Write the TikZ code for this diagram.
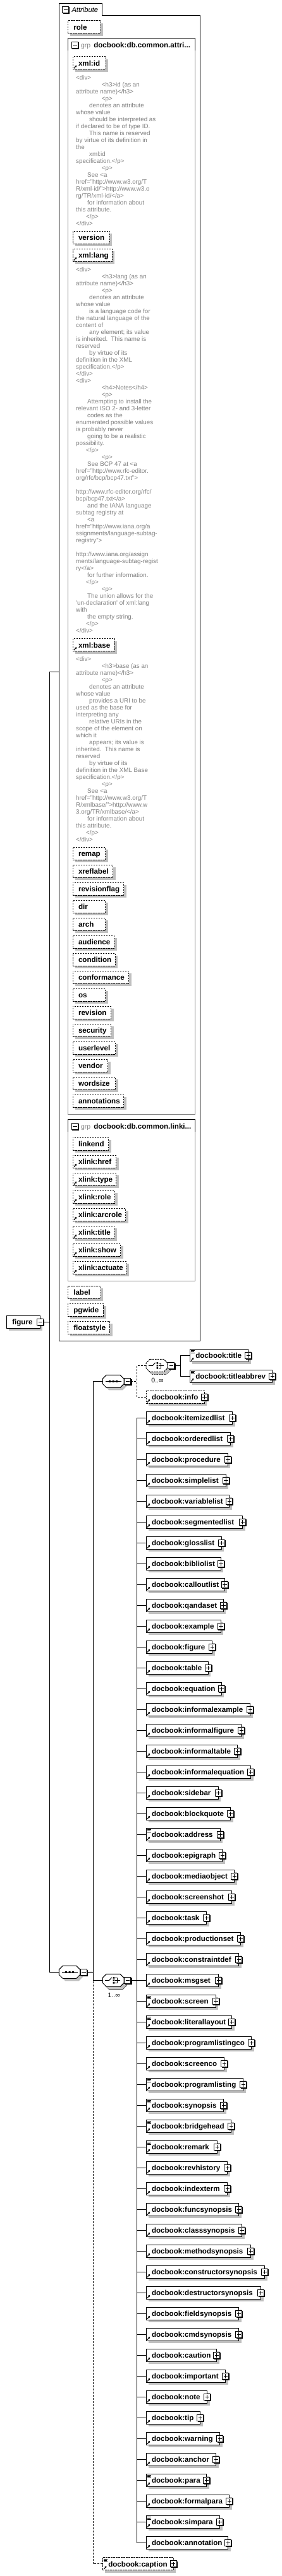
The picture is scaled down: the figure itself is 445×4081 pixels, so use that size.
\documentclass[tikz,border=0pt]{standalone}
\usepackage{fontspec}
\setmainfont{Liberation Sans}
\usetikzlibrary{arrows.meta}
\definecolor{shd}{HTML}{C0C0C0}
\definecolor{anno}{HTML}{808080}
\definecolor{grpc}{HTML}{808080}
\tikzset{
  box/.style={draw=black, line width=1pt, fill=white, minimum height=20pt, inner sep=0pt, outer sep=0pt},
  dbox/.style={box, dash pattern=on 2.5pt off 1.5pt},
  lbl/.style={font=\fontsize{11.6}{13}\selectfont\bfseries, inner sep=0pt, outer sep=0pt, anchor=base west},
  alab/.style={font=\fontsize{9.8}{11}\selectfont, text=anno, inner sep=0pt, anchor=base west},
  grpt/.style={font=\fontsize{10.4}{12}\selectfont, text=anno, inner sep=0pt, anchor=base west},
  mult/.style={font=\fontsize{10.5}{12}\selectfont, inner sep=0pt},
  sq/.style={draw=black, line width=1pt, fill=white, minimum size=10pt, inner sep=0pt, outer sep=0pt},
  hub/.style={inner sep=0pt, outer sep=0pt},
  conn/.style={line width=1pt},
  dconn/.style={line width=1pt, dash pattern=on 3pt off 2pt},
}
\newcommand\plusbx[3]{%
  \fill[black] (#2-4,#3-4) rectangle (#2+6.6,#3+6.6);
  \node[sq] (#1) at (#2,#3) {};
  \draw[line width=1pt] (#2-3.2,#3) -- (#2+3.2,#3) (#2,#3-3.2) -- (#2,#3+3.2);}
\newcommand\minusbx[3]{%
  \fill[black] (#2-4,#3-4) rectangle (#2+6.6,#3+6.6);
  \node[sq] (#1) at (#2,#3) {};
  \draw[line width=1pt] (#2-3.2,#3) -- (#2+3.2,#3);}
\newcommand\arrowicon[2]{\draw[line width=1.1pt,-{Triangle[length=2.8pt,width=3pt]}] (#1+2,#2+8.3) -- (#1+6.2,#2+3.4);}
\newcommand\texticon[2]{\draw[line width=0.8pt] (#1+2,#2-7.6) -- (#1+8,#2-7.6) (#1+2,#2-5.6) -- (#1+7,#2-5.6) (#1+2,#2-3.6) -- (#1+8,#2-3.6);}
% element: style, name, left, yc, right, text
\newcommand\elem[6]{%
  \fill[shd] (#3+4,#4-6) rectangle (#5+4,#4+14);
  \node[#1, anchor=west, minimum width=#5-#3] (#2) at (#3,#4) {};
  \node[lbl] (#2-t) at (#3+9,#4+4.5) {#6};
  \arrowicon{#3}{#4}%
  \plusbx{#2-p}{#5}{#4}}
% attribute: name, left, top, right, text
\newcommand\attr[5]{%
  \fill[shd] (#2+4,#3+4) rectangle (#4+4,#3+24);
  \node[dbox, anchor=north west, minimum width=#4-#2] (#1) at (#2,#3) {};
  \node[lbl] (#1-t) at (#2+9,#3+14.5) {#5};}
\newcommand\attrx[5]{\attr{#1}{#2}{#3}{#4}{#5}\arrowicon{#2}{#3+10}}
% group box: name, top, bottom, text
\newcommand\grpbox[4]{%
  \node[hub, draw=grpc, line width=1pt, anchor=north west, minimum width=201.4, minimum height=#3-#2] (#1) at (107.3,#2) {};
  \draw[line width=1pt] (107.3,#2+19.5) -- (107.3,#2) -- (308.7,#2) -- (308.7,#2+19.5);
  \minusbx{#1-m}{118.3}{#2+10.5}
  \node[grpt] (#1-g) at (128,#2+14.5) {grp};
  \node[lbl] (#1-t) at (148.3,#2+14.5) {#4};}
% octagon: style, name, l, t, r, b
\newcommand\octa[6]{%
  \fill[shd] (#3+10,#4+4) -- (#5-2,#4+4) -- (#5+4,#4+10) -- (#5+4,#6-2) -- (#5-2,#6+4) -- (#3+10,#6+4) -- (#3+4,#6-2) -- (#3+4,#4+10) -- cycle;
  \draw[#1, fill=white] (#3+6,#4) -- (#5-6,#4) -- (#5,#4+6) -- (#5,#6-6) -- (#5-6,#6) -- (#3+6,#6) -- (#3,#6-6) -- (#3,#4+6) -- cycle;
  \node[hub, minimum width=#5-#3, minimum height=#6-#4, anchor=north west] (#2) at (#3,#4) {};}
\newcommand\octb[5]{% back copy for repeated choice: style, l,t,r,b
  \draw[#1, fill=white] (#2+6,#3) -- (#4-6,#3) -- (#4,#3+6) -- (#4,#5-6) -- (#4-6,#5) -- (#2+6,#5) -- (#2,#5-6) -- (#2,#3+6) -- cycle;}
\newcommand\seqsym[2]{%
  \draw[line width=1pt] (#1-12.5,#2) -- (#1+12.5,#2);
  \fill (#1-7,#2-1.5) rectangle (#1-4,#2+1.5) (#1-1.5,#2-1.5) rectangle (#1+1.5,#2+1.5) (#1+4,#2-1.5) rectangle (#1+7,#2+1.5);}
\newcommand\chsym[2]{%
  \draw[line width=1pt] (#1-13,#2) -- (#1-6.5,#2) -- (#1-2.5,#2-4.5);
  \fill (#1-0.5,#2-5.3) rectangle (#1+2.1,#2-2.7) (#1-0.5,#2-1.3) rectangle (#1+2.1,#2+1.3) (#1-0.5,#2+2.7) rectangle (#1+2.1,#2+5.3);
  \draw[line width=1pt] (#1+3,#2-4) -- (#1+6,#2-4) -- (#1+6,#2+4) -- (#1+3,#2+4) (#1+3,#2) -- (#1+11,#2);}
\newcounter{anl}
\newcommand\astart[1]{\xdef\ay{#1}}
\newcommand\al[2]{\stepcounter{anl}\node[alab] (an\theanl) at (120+#1,\ay+3.5) {#2};\pgfmathsetmacro\tmpy{\ay+11}\xdef\ay{\tmpy}}
\newcommand\askip{\pgfmathsetmacro\tmpy{\ay+11}\xdef\ay{\tmpy}}

\begin{document}
\begin{tikzpicture}[x=1pt,y=-1pt]
\useasboundingbox (0,0) rectangle (445,4081);

% ===== Attribute container =====
\node[hub, anchor=north west, minimum width=223, minimum height=2118.7] (attrs) at (93.3,5.3) {};
\draw[line width=1pt] (93.3,2124) -- (93.3,5.3) -- (161.7,5.3) -- (161.7,24.3) -- (316.3,24.3) -- (316.3,2124) -- cycle;
\minusbx{attrs-m}{103.7}{15.5}
\node[font=\fontsize{11.2}{13}\selectfont\itshape, inner sep=0pt, anchor=base west] (attrs-t) at (113.3,19.7) {Attribute};

\attr{role}{107.3}{33}{159}{role}

% ----- group 1 -----
\grpbox{g1}{61}{1765}{docbook:db.common.attri...}
\attrx{xmlid}{115}{90}{167}{xml:id}
\astart{122.7}
\al{0}{<div>}
\al{40.7}{<h3>id (as an}
\al{0}{attribute name)</h3>}
\al{40.7}{<p>}
\al{21}{denotes an attribute}
\al{0}{whose value}
\al{21}{should be interpreted as}
\al{0}{if declared to be of type ID.}
\al{21}{This name is reserved}
\al{0}{by virtue of its definition in}
\al{0}{the}
\al{21}{xml:id}
\al{0}{specification.</p>}
\al{40.7}{<p>}
\al{18}{See <a}
\al{0}{href="http://www.w3.org/T}
\al{0}{R/xml-id/">http://www.w3.o}
\al{0}{rg/TR/xml-id/</a>}
\al{18}{for information about}
\al{0}{this attribute.}
\al{16}{</p>}
\al{0}{</div>}

\attr{version}{115}{366}{173}{version}
\attrx{xmllang}{115}{394}{177}{xml:lang}
\astart{426.7}
\al{0}{<div>}
\al{40.7}{<h3>lang (as an}
\al{0}{attribute name)</h3>}
\al{40.7}{<p>}
\al{21}{denotes an attribute}
\al{0}{whose value}
\al{21}{is a language code for}
\al{0}{the natural language of the}
\al{0}{content of}
\al{21}{any element; its value}
\al{0}{is inherited.\ \ This name is}
\al{0}{reserved}
\al{21}{by virtue of its}
\al{0}{definition in the XML}
\al{0}{specification.</p>}
\al{0}{</div>}
\al{0}{<div>}
\al{40.7}{<h4>Notes</h4>}
\al{40.7}{<p>}
\al{18}{Attempting to install the}
\al{0}{relevant ISO 2- and 3-letter}
\al{18}{codes as the}
\al{0}{enumerated possible values}
\al{0}{is probably never}
\al{18}{going to be a realistic}
\al{0}{possibility.}
\al{16}{</p>}
\al{40.7}{<p>}
\al{18}{See BCP 47 at <a}
\al{0}{href="http://www.rfc-editor.}
\al{0}{org/rfc/bcp/bcp47.txt">}
\askip
\al{0}{http://www.rfc-editor.org/rfc/}
\al{0}{bcp/bcp47.txt</a>}
\al{18}{and the IANA language}
\al{0}{subtag registry at}
\al{18}{<a}
\al{0}{href="http://www.iana.org/a}
\al{0}{ssignments/language-subtag-}
\al{0}{registry">}
\askip
\al{0}{http://www.iana.org/assign}
\al{0}{ments/language-subtag-regist}
\al{0}{ry</a>}
\al{18}{for further information.}
\al{16}{</p>}
\al{40.7}{<p>}
\al{18}{The union allows for the}
\al{0}{\textquotesingle un-declaration\textquotesingle\ of xml:lang}
\al{0}{with}
\al{18}{the empty string.}
\al{16}{</p>}
\al{0}{</div>}

\attrx{xmlbase}{115}{1011.7}{181}{xml:base}
\astart{1043.7}
\al{0}{<div>}
\al{40.7}{<h3>base (as an}
\al{0}{attribute name)</h3>}
\al{40.7}{<p>}
\al{21}{denotes an attribute}
\al{0}{whose value}
\al{21}{provides a URI to be}
\al{0}{used as the base for}
\al{0}{interpreting any}
\al{21}{relative URIs in the}
\al{0}{scope of the element on}
\al{0}{which it}
\al{21}{appears; its value is}
\al{0}{inherited.\ \ This name is}
\al{0}{reserved}
\al{21}{by virtue of its}
\al{0}{definition in the XML Base}
\al{0}{specification.</p>}
\al{40.7}{<p>}
\al{18}{See <a}
\al{0}{href="http://www.w3.org/T}
\al{0}{R/xmlbase/">http://www.w}
\al{0}{3.org/TR/xmlbase/</a>}
\al{18}{for information about}
\al{0}{this attribute.}
\al{16}{</p>}
\al{0}{</div>}

\foreach \nm/\rt [count=\i] in {remap/166.7, xreflabel/178.7, revisionflag/195.7, dir/166.7, arch/166.7, audience/180.7, condition/182, conformance/203.7, os/166.7, revision/175.7, security/175.7, userlevel/182.7, vendor/170.7, wordsize/182.7, annotations/195.7}{
  \pgfmathsetmacro\tp{1342.3+28*(\i-1)}
  \attr{a\i}{115}{\tp}{\rt}{\nm}
}

% ----- group 2 -----
\grpbox{g2}{1773.7}{2029.3}{docbook:db.common.linki...}
\attr{linkend}{115}{1802.3}{171.7}{linkend}
\foreach \nm/\rt [count=\i] in {href/183.7, type/183.7, role/181.7, arcrole/198.7, title/180.7, show/190.7, actuate/199.7}{
  \pgfmathsetmacro\tp{1830.3+28*(\i-1)}
  \attrx{x\i}{115}{\tp}{\rt}{xlink:\nm}
}

\attr{label}{107.3}{2037.3}{159}{label}
\attr{pgwide}{107.3}{2065.3}{163.7}{pgwide}
\attr{floatstyle}{107.3}{2093.3}{173.7}{floatstyle}

% ===== root element =====
\fill[shd] (14.3,2088.3) rectangle (67.3,2108.3);
\node[box, anchor=north west, minimum width=53] (fig) at (10.3,2084.3) {};
\node[lbl] (fig-t) at (19.3,2098.8) {figure};
\minusbx{fig-m}{63.7}{2094.5}

% ===== sequence / choice compositors =====
\octa{line width=1pt}{seq1}{93.3}{3114.3}{126.7}{3134.3}
\seqsym{110}{3124.3}
\minusbx{seq1-m}{132.5}{3124.5}

\octa{line width=1pt}{seq2}{162.3}{2178.3}{196}{2198.3}
\seqsym{179.2}{2188.3}
\minusbx{seq2-m}{201.9}{2188.5}

\octb{line width=1pt, dash pattern=on 2.5pt off 1.5pt}{235}{2157.3}{269}{2177.3}
\octa{line width=1pt, dash pattern=on 2.5pt off 1.5pt}{ch1}{231}{2153.3}{265}{2173.3}
\chsym{248}{2163.3}
\minusbx{ch1-m}{270.9}{2163.5}
\node[mult] (ch1-n) at (249,2187) {0..∞};

\octb{line width=1pt}{166.3}{3131.3}{200}{3151.3}
\octa{line width=1pt}{ch2}{162.3}{3127.3}{196}{3147.3}
\chsym{179.2}{3137.3}
\minusbx{ch2-m}{201.9}{3137.3}
\node[mult] (ch2-n) at (180.3,3161) {1..∞};

% ===== junctions =====
\coordinate (j0) at (78.3,2094.5);
\coordinate (j1) at (147,3124.4);
\coordinate (j1b) at (147,3137.3);
\coordinate (j2) at (216.3,2188.5);
\coordinate (j3) at (285,2163.5);
\coordinate (j4) at (216.3,3137.3);

\draw[conn] (fig-m.east) -- (j0);
\draw[conn] (attrs.west) -| (j0);
\draw[conn] (seq1.west) -| (j0);

\draw[conn] (seq1-m.east) -- (j1);
\draw[conn] (seq2.west) -| (j1);
\draw[conn] (ch2.west) -| (j1);

\draw[dconn] (seq2-m.east) -- (j2);
\draw[conn] (ch1-m.east) -- (j3);
\draw[conn] (ch2-m.east) -- (j4);

% ===== elements =====
\elem{box}{title}{300.3}{2147.3}{392.7}{docbook:title}
\texticon{300.3}{2147.3}
\elem{box}{titleabbrev}{300.3}{2180.2}{430.7}{docbook:titleabbrev}
\texticon{300.3}{2180.2}
\draw[conn] (title.west) -| (j3);
\draw[conn] (titleabbrev.west) -| (j3);

\elem{dbox}{info}{231}{2213.3}{323.3}{docbook:info}
\draw[dconn] (ch1.west) -| (j2);
\draw[dconn] (info.west) -| (j2);

\foreach \nm/\rt/\ti [count=\i] in {itemizedlist/367.7/0, orderedlist/364.7/0, procedure/360.3/0, simplelist/357.3/0, variablelist/362.7/0, segmentedlist/383.7/0, glosslist/350.3/0, bibliolist/349.3/0, calloutlist/355.3/0, qandaset/353.3/0, example/349.3/0, figure/335.7/0, table/329.3/0, equation/350.3/0, informalexample/395.7/0, informalfigure/381.7/0, informaltable/375.7/0, informalequation/396.7/0, sidebar/345.3/0, blockquote/364.7/0, address/348.3/1, epigraph/351.7/0, mediaobject/370.7/0, screenshot/366.7/0, task/326.7/0, productionset/380.7/0, constraintdef/377.7/0, msgset/345.7/0, screen/341.3/1, literallayout/366.7/1, programlistingco/397.7/0, screenco/354.7/0, programlisting/384.7/1, synopsis/353.7/1, bridgehead/365.7/1, remark/343.7/1, revhistory/359.7/0, indexterm/359.7/0, funcsynopsis/377.7/0, classsynopsis/382.7/0, methodsynopsis/396.7/0, constructorsynopsis/418.7/0, destructorsynopsis/412.7/0, fieldsynopsis/377.7/0, cmdsynopsis/377.7/0, caution/342.7/0, important/356.7/0, note/327.7/0, tip/316.7/0, warning/347.7/0, anchor/341.7/0, para/326.7/1, formalpara/362.7/0, simpara/347.7/1, annotation/360.7/0}{
  \pgfmathsetmacro\yc{2246.3+33*(\i-1)}
  \elem{box}{c\i}{231}{\yc}{\rt}{docbook:\nm}
  \ifnum\ti=1 \texticon{231}{\yc}\fi
  \draw[conn] (c\i.west) -| (j4);
}

\elem{dbox}{caption}{162.3}{4061.7}{274}{docbook:caption}
\texticon{162.3}{4061.7}
\draw[dconn] (caption.west) -| (j1b);
\end{tikzpicture}
\end{document}
